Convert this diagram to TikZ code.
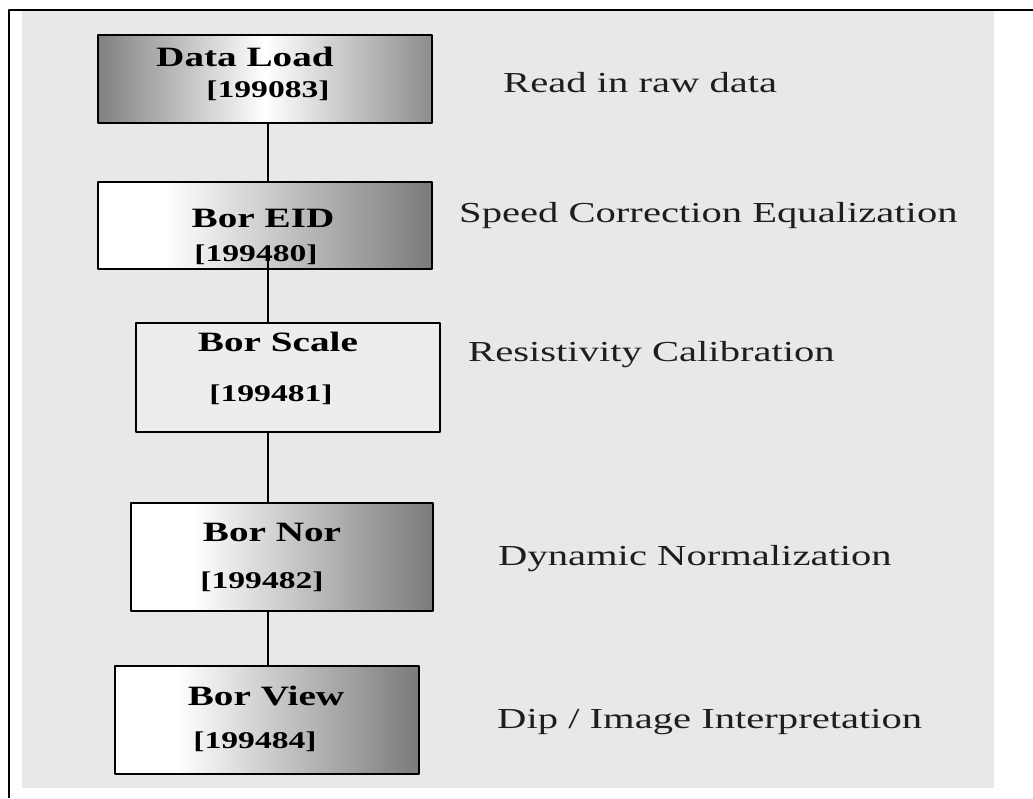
\documentclass[tikz,border=0pt]{standalone}
\usepackage{fontspec}
\setmainfont[FakeStretch=1.4]{Liberation Serif}
\definecolor{panel}{HTML}{E8E8E8}
\definecolor{ink}{HTML}{1E1E1E}
% white at the left, fading to gray on the right
\pgfdeclarehorizontalshading{fadegray}{100bp}{color(0bp)=(white); color(35bp)=(white); color(75bp)=(black!52); color(100bp)=(black!52)}
\begin{document}
\begin{tikzpicture}[x=1pt, y=-1pt, line join=round,
	box/.style={draw=black, line width=1.6pt, inner sep=0pt},
	title/.style={anchor=base, inner sep=0pt, text=black, font=\fontsize{28}{32}\selectfont\bfseries},
	code/.style={anchor=base, inner sep=0pt, text=black, font=\fontsize{24}{28}\selectfont\bfseries},
	note/.style={anchor=base west, inner sep=0pt, text=ink, font=\fontsize{29}{34}\selectfont},
	link/.style={draw=black, line width=1.4pt}]
	\useasboundingbox (0,0) rectangle (1033,798);
	\fill[panel] (22,10) rectangle (994,788);
	\draw[line width=2pt] (1033,9.5) -- (8.5,9.5) -- (8.5,798);

	% boxes
	\node[box, minimum width=334pt, minimum height=88pt, left color=black!50, right color=black!45, middle color=white] (load) at (265,79) {};
	\node[box, minimum width=334pt, minimum height=87pt, shading=fadegray] (eid) at (265,225.5) {};
	\node[box, minimum width=304pt, minimum height=109pt, fill=panel!80!white] (scale) at (288,377.5) {};
	\node[box, minimum width=302pt, minimum height=108pt, shading=fadegray] (nor) at (282,557) {};
	\node[box, minimum width=304pt, minimum height=108pt, shading=fadegray] (view) at (267,720) {};

	% box texts
	\node[title] (loadname) at (245,66) {Data Load};
	\node[code] (loadnum) at (268,97) {[199083]};
	\node[title] (eidname) at (263,227) {Bor EID};
	\node[code] (eidnum) at (256,261) {[199480]};
	\node[title] (scalename) at (278,351) {Bor Scale};
	\node[code] (scalenum) at (271,401) {[199481]};
	\node[title] (norname) at (272,541) {Bor Nor};
	\node[code] (nornum) at (262,588) {[199482]};
	\node[title] (viewname) at (266,705) {Bor View};
	\node[code] (viewnum) at (255,748) {[199484]};

	% descriptions
	\node[note] (loadnote) at (503,92) {Read in raw data};
	\node[note] (eidnote) at (459,222) {Speed Correction Equalization};
	\node[note] (scalenote) at (468,361) {Resistivity Calibration};
	\node[note] (nornote) at (498,565) {Dynamic Normalization};
	\node[note] (viewnote) at (497,728) {Dip / Image Interpretation};

	% connectors
	\coordinate (axis) at (268,0);
	\coordinate (eidtail) at (268,250);
	\draw[link] (load.south -| axis) -- (eid.north -| axis);
	\draw[link, line width=2.8pt] (eidtail) -- (scale.north -| eidtail);
	\draw[link] (scale.south -| axis) -- (nor.north -| axis);
	\draw[link] (nor.south -| axis) -- (view.north -| axis);
\end{tikzpicture}
\end{document}
